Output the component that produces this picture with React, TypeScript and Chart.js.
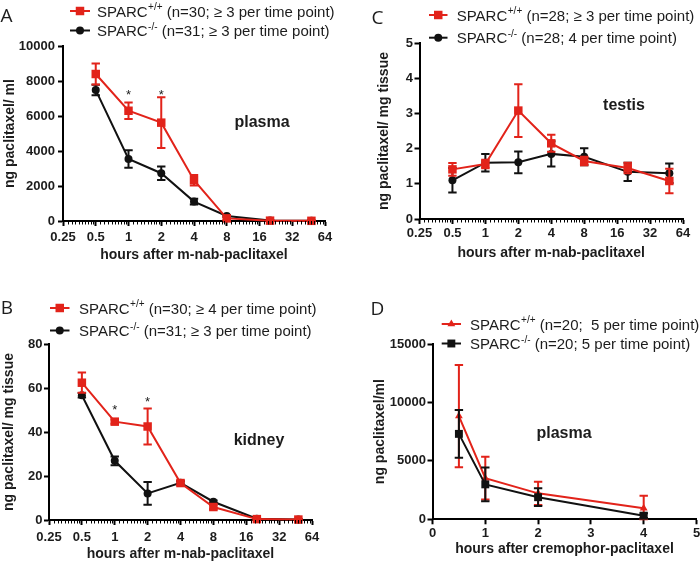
import React, { useEffect, useRef } from "react";
import { Chart, registerables } from "chart.js";

Chart.register(...registerables);

// ---------- colours / fonts ----------
const RED = "#e2231a";
const BLACK = "#111111";
const INK = "#1c1c1c";
const SANS = "'Liberation Sans', Arial, Helvetica, sans-serif";
const LETTER_FONT = "'Open Sans', 'DejaVu Sans', sans-serif";

// ---------- shared axes ----------
const logTickLabels = ["0.25", "0.5", "1", "2", "4", "8", "16", "32", "64"];
const linTickLabels = ["0", "1", "2", "3", "4", "5"];
const hoursNab = [0.5, 1, 2, 4, 8, 20, 48];
const hoursCremo = [0.5, 1, 2, 4];

// ---------- panel A: plasma after m-nab-paclitaxel ----------
const plasmaNabWT = [8400, 6300, 5620, 2330, 150, 20, 10];
const plasmaNabWTsem = [600, 470, 1450, 300, 80, 20, 10];
const plasmaNabKO = [7480, 3550, 2730, 1110, 290, 30, 10];
const plasmaNabKOsem = [300, 500, 380, 160, 60, 20, 10];
const plasmaNabStarHours = [1, 2];
const plasmaNabStarLevel = [7400, 7400];

// ---------- panel B: kidney ----------
const kidneyWT = [62.4, 44.7, 42.5, 16.8, 5.9, 0.4, 0.2];
const kidneyWTsem = [4.6, 1.0, 8.2, 1.0, 1.0, 0.5, 0.3];
const kidneyKO = [56.7, 26.9, 12.1, 16.9, 8.3, 0.6, 0.2];
const kidneyKOsem = [1.0, 2.0, 5.2, 0.8, 0.6, 0.3, 0.2];
const kidneyStarHours = [1, 2];
const kidneyStarLevel = [51.5, 55.3];

// ---------- panel C: testis ----------
const testisWT = [1.41, 1.56, 3.08, 2.15, 1.65, 1.45, 1.08];
const testisWTsem = [0.18, 0.12, 0.75, 0.24, 0.12, 0.15, 0.35];
const testisKO = [1.1, 1.6, 1.61, 1.85, 1.77, 1.34, 1.3];
const testisKOsem = [0.35, 0.25, 0.31, 0.36, 0.24, 0.26, 0.28];

// ---------- panel D: plasma after cremophor-paclitaxel ----------
const plasmaCremoWT = [8830, 3520, 2220, 940];
const plasmaCremoWTsd = [4380, 1830, 1000, 1080];
const plasmaCremoKO = [7310, 2990, 1890, 310];
const plasmaCremoKOsd = [2050, 1450, 760, 200];

type Marker = "rect" | "circle" | "triangle";
type SeriesDef = {
  sup: string;
  note: string;
  x: number[];
  y: number[];
  err: number[];
  color: string;
  marker: Marker;
  radius: number;
};
type PanelDef = {
  key: string;
  left: number;
  top: number;
  area: { l: number; r: number; t: number; b: number };
  logX: boolean;
  xMin: number;
  xMax: number;
  xLabels: string[];
  yMax: number;
  yStep: number;
  xTitle: string;
  yTitle: string;
  yTitleCx: number;
  xTitleCy: number;
  yTickPad: number;
  xTickPad: number;
  letter: string;
  letterAt: [number, number];
  tag: string;
  tagAt: [number, number];
  legend: { x1: number; x2: number; tx: number; rows: [number, number] };
  wt: SeriesDef;
  ko: SeriesDef;
  koOnTop: boolean;
  stars?: { x: number[]; y: number[] };
};

const WT_SUP = "+/+";
const KO_SUP = "-/-";

const panels: PanelDef[] = [
  {
    key: "A",
    left: 0,
    top: 0,
    area: { l: 63, r: 325, t: 46, b: 221 },
    logX: true,
    xMin: -2,
    xMax: 6,
    xLabels: logTickLabels,
    yMax: 10000,
    yStep: 2000,
    xTitle: "hours after m-nab-paclitaxel",
    yTitle: "ng paclitaxel/ ml",
    yTitleCx: 10,
    xTitleCy: 255,
    yTickPad: 3,
    xTickPad: 4,
    letter: "A",
    letterAt: [6.5, 17],
    tag: "plasma",
    tagAt: [262, 123],
    legend: { x1: 70, x2: 90, tx: 97, rows: [11, 30.5] },
    wt: { sup: WT_SUP, note: " (n=30; \u2265 3 per time point)", x: hoursNab, y: plasmaNabWT, err: plasmaNabWTsem, color: RED, marker: "rect", radius: 6 },
    ko: { sup: KO_SUP, note: " (n=31; \u2265 3 per time point)", x: hoursNab, y: plasmaNabKO, err: plasmaNabKOsem, color: BLACK, marker: "circle", radius: 4 },
    koOnTop: false,
    stars: { x: plasmaNabStarHours, y: plasmaNabStarLevel },
  },
  {
    key: "B",
    left: 0,
    top: 281,
    area: { l: 49, r: 312, t: 63, b: 239 },
    logX: true,
    xMin: -2,
    xMax: 6,
    xLabels: logTickLabels,
    yMax: 80,
    yStep: 20,
    xTitle: "hours after m-nab-paclitaxel",
    yTitle: "ng paclitaxel/ mg tissue",
    yTitleCx: 9,
    xTitleCy: 273,
    yTickPad: 1.5,
    xTickPad: 4.5,
    letter: "B",
    letterAt: [7, 28],
    tag: "kidney",
    tagAt: [259, 160],
    legend: { x1: 50, x2: 69.5, tx: 79, rows: [27, 49.5] },
    wt: { sup: WT_SUP, note: " (n=30; \u2265 4 per time point)", x: hoursNab, y: kidneyWT, err: kidneyWTsem, color: RED, marker: "rect", radius: 6 },
    ko: { sup: KO_SUP, note: " (n=31; \u2265 3 per time point)", x: hoursNab, y: kidneyKO, err: kidneyKOsem, color: BLACK, marker: "circle", radius: 4 },
    koOnTop: false,
    stars: { x: kidneyStarHours, y: kidneyStarLevel },
  },
  {
    key: "C",
    left: 350,
    top: 0,
    area: { l: 69.5, r: 333, t: 43, b: 219 },
    logX: true,
    xMin: -2,
    xMax: 6,
    xLabels: logTickLabels,
    yMax: 5,
    yStep: 1,
    xTitle: "hours after m-nab-paclitaxel",
    yTitle: "ng paclitaxel/ mg tissue",
    yTitleCx: 34,
    xTitleCy: 253,
    yTickPad: 1.5,
    xTickPad: 1.5,
    letter: "C",
    letterAt: [27.5, 18.3],
    tag: "testis",
    tagAt: [274, 106],
    legend: { x1: 79, x2: 97.5, tx: 106.7, rows: [15, 37.7] },
    wt: { sup: WT_SUP, note: " (n=28; \u2265 3 per time point)", x: hoursNab, y: testisWT, err: testisWTsem, color: RED, marker: "rect", radius: 6 },
    ko: { sup: KO_SUP, note: " (n=28; 4 per time point)", x: hoursNab, y: testisKO, err: testisKOsem, color: BLACK, marker: "circle", radius: 4 },
    koOnTop: false,
  },
  {
    key: "D",
    left: 350,
    top: 281,
    area: { l: 82.5, r: 346.5, t: 63, b: 238.3 },
    logX: false,
    xMin: 0,
    xMax: 5,
    xLabels: linTickLabels,
    yMax: 15000,
    yStep: 5000,
    xTitle: "hours after cremophor-paclitaxel",
    yTitle: "ng paclitaxel/ml",
    yTitleCx: 30,
    xTitleCy: 268,
    yTickPad: 1.5,
    xTickPad: 1.5,
    letter: "D",
    letterAt: [27.5, 28.5],
    tag: "plasma",
    tagAt: [214, 153],
    legend: { x1: 91.7, x2: 111, tx: 120, rows: [43, 62.5] },
    wt: { sup: WT_SUP, note: " (n=20;  5 per time point)", x: hoursCremo, y: plasmaCremoWT, err: plasmaCremoWTsd, color: RED, marker: "triangle", radius: 4.5 },
    ko: { sup: KO_SUP, note: " (n=20; 5 per time point)", x: hoursCremo, y: plasmaCremoKO, err: plasmaCremoKOsd, color: BLACK, marker: "rect", radius: 5.6 },
    koOnTop: true,
  },
];

function drawMarker(ctx: CanvasRenderingContext2D, kind: Marker, x: number, y: number, r: number, color: string) {
  ctx.save();
  ctx.fillStyle = color;
  ctx.beginPath();
  if (kind === "rect") {
    const s = r * Math.SQRT1_2;
    ctx.rect(x - s, y - s, 2 * s, 2 * s);
  } else if (kind === "circle") {
    ctx.arc(x, y, r, 0, Math.PI * 2);
  } else {
    let rad = 0;
    ctx.moveTo(x + Math.sin(rad) * r, y - Math.cos(rad) * r);
    rad += (2 * Math.PI) / 3;
    ctx.lineTo(x + Math.sin(rad) * r, y - Math.cos(rad) * r);
    rad += (2 * Math.PI) / 3;
    ctx.lineTo(x + Math.sin(rad) * r, y - Math.cos(rad) * r);
    ctx.closePath();
  }
  ctx.fill();
  ctx.restore();
}

function Panel({ def }: { def: PanelDef }) {
  const ref = useRef<HTMLCanvasElement>(null);

  useEffect(() => {
    const canvas = ref.current;
    if (!canvas) return;
    const toX = (h: number) => (def.logX ? Math.log2(h) : h);
    const mkDataset = (s: SeriesDef) => ({
      data: s.x.map((h, i) => ({ x: toX(h), y: s.y[i] })),
      errorBars: s.err,
      borderColor: s.color,
      backgroundColor: s.color,
      borderWidth: 2,
      pointStyle: s.marker,
      pointRadius: s.radius,
      pointBorderWidth: 0,
      pointBackgroundColor: s.color,
      tension: 0,
      clip: false as const,
    });
    const order = def.koOnTop ? [def.ko, def.wt] : [def.wt, def.ko];

    const fixArea = {
      id: "fixArea",
      afterLayout(chart: any) {
        const a = def.area;
        const xs = chart.scales.x;
        const ys = chart.scales.y;
        const lh = 14 * 1.2;
        chart.chartArea = { left: a.l, top: a.t, right: a.r, bottom: a.b, width: a.r - a.l, height: a.b - a.t };
        xs.left = a.l;
        xs.right = a.r;
        xs.width = a.r - a.l;
        xs.top = a.b;
        xs.bottom = def.xTitleCy + lh / 2;
        xs.height = xs.bottom - xs.top;
        ys.top = a.t;
        ys.bottom = a.b;
        ys.height = a.b - a.t;
        ys.left = def.yTitleCx - lh / 2;
        ys.right = a.l;
        ys.width = ys.right - ys.left;
        xs.configure();
        ys.configure();
        xs._labelItems = null;
        xs._gridLineItems = null;
        ys._labelItems = null;
        ys._gridLineItems = null;
      },
    };

    const errorBars = {
      id: "errorBars",
      beforeDatasetDraw(chart: any, args: any) {
        const ctx: CanvasRenderingContext2D = chart.ctx;
        const ds = chart.data.datasets[args.index];
        const ys = chart.scales.y;
        const pts = args.meta.data;
        ctx.save();
        ctx.strokeStyle = ds.borderColor;
        ctx.lineWidth = 2;
        const cap = 4.2;
        pts.forEach((el: any, i: number) => {
          const v = ds.data[i].y;
          const e = ds.errorBars[i];
          const yt = ys.getPixelForValue(v + e);
          const yb = ys.getPixelForValue(Math.max(0, v - e));
          ctx.beginPath();
          ctx.moveTo(el.x, yt);
          ctx.lineTo(el.x, yb);
          ctx.moveTo(el.x - cap, yt);
          ctx.lineTo(el.x + cap, yt);
          ctx.moveTo(el.x - cap, yb);
          ctx.lineTo(el.x + cap, yb);
          ctx.stroke();
        });
        ctx.restore();
      },
    };

    const decorations = {
      id: "decorations",
      afterDraw(chart: any) {
        const ctx: CanvasRenderingContext2D = chart.ctx;
        const xs = chart.scales.x;
        const ys = chart.scales.y;
        ctx.save();
        // minor ticks on log2 axes
        if (def.logX) {
          ctx.strokeStyle = "#000";
          ctx.lineWidth = 1;
          ctx.beginPath();
          for (let k = def.xMin; k < def.xMax; k++) {
            for (let i = 1; i <= 9; i++) {
              const px = xs.getPixelForValue(k + Math.log2(1 + i / 10));
              ctx.moveTo(Math.round(px) + 0.5, def.area.b);
              ctx.lineTo(Math.round(px) + 0.5, def.area.b + 3.5);
            }
          }
          ctx.stroke();
        }
        // panel letter
        ctx.fillStyle = INK;
        ctx.textAlign = "center";
        ctx.textBaseline = "middle";
        ctx.font = `19px ${LETTER_FONT}`;
        ctx.fillText(def.letter, def.letterAt[0], def.letterAt[1]);
        // tissue tag
        ctx.font = `bold 16px ${SANS}`;
        ctx.fillText(def.tag, def.tagAt[0], def.tagAt[1]);
        // significance stars
        if (def.stars) {
          ctx.font = `13px ${SANS}`;
          ctx.textBaseline = "alphabetic";
          def.stars.x.forEach((h, i) => {
            const px = xs.getPixelForValue(toX(h));
            const py = ys.getPixelForValue(def.stars!.y[i]);
            ctx.fillText("*", px, py + 7.5);
          });
        }
        // legend
        const L = def.legend;
        [def.wt, def.ko].forEach((s, row) => {
          const y = L.rows[row];
          ctx.strokeStyle = s.color;
          ctx.lineWidth = 2;
          ctx.beginPath();
          ctx.moveTo(L.x1, y);
          ctx.lineTo(L.x2, y);
          ctx.stroke();
          drawMarker(ctx, s.marker, (L.x1 + L.x2) / 2, y, s.radius, s.color);
          ctx.fillStyle = INK;
          ctx.textAlign = "left";
          ctx.textBaseline = "alphabetic";
          const base = y + 5.5;
          ctx.font = `15px ${SANS}`;
          ctx.fillText("SPARC", L.tx, base);
          let cx = L.tx + ctx.measureText("SPARC").width + 0.5;
          ctx.font = `10px ${SANS}`;
          ctx.fillText(s.sup, cx, base - 6.5);
          cx += ctx.measureText(s.sup).width;
          ctx.font = `15px ${SANS}`;
          ctx.fillText(s.note, cx, base);
        });
        ctx.restore();
      },
    };

    const tickFont = { family: SANS, size: 13, weight: "bold" as const };
    const titleFont = { family: SANS, size: 14, weight: "bold" as const };

    const chart = new Chart(canvas, {
      type: "line",
      data: { datasets: order.map(mkDataset) as any },
      options: {
        responsive: false,
        animation: false,
        events: [],
        layout: { padding: 0 },
        plugins: {
          legend: { display: false },
          tooltip: { enabled: false },
          title: { display: false },
        },
        scales: {
          x: {
            type: "linear",
            min: def.xMin,
            max: def.xMax,
            ticks: {
              stepSize: 1,
              autoSkip: false,
              maxRotation: 0,
              padding: def.xTickPad,
              color: INK,
              font: tickFont,
              callback: (_v: any, i: number) => def.xLabels[i],
            },
            grid: { drawOnChartArea: false, drawTicks: true, tickLength: 5, tickWidth: 2, tickColor: "#000", color: "#000" },
            border: { display: true, color: "#000", width: 2 },
            title: { display: true, text: def.xTitle, color: INK, font: titleFont, padding: 0 },
          },
          y: {
            type: "linear",
            position: "left",
            min: 0,
            max: def.yMax,
            ticks: {
              stepSize: def.yStep,
              padding: def.yTickPad,
              color: INK,
              font: tickFont,
              callback: (v: any) => String(v),
            },
            grid: { drawOnChartArea: false, drawTicks: true, tickLength: 5, tickWidth: 2, tickColor: "#000", color: "#000" },
            border: { display: true, color: "#000", width: 2 },
            title: { display: true, text: def.yTitle, color: INK, font: titleFont, padding: 0 },
          },
        },
      } as any,
      plugins: [fixArea, errorBars, decorations],
    });
    return () => chart.destroy();
  }, [def]);

  return (
    <canvas
      ref={ref}
      width={350}
      height={281}
      style={{ position: "absolute", left: def.left, top: def.top, width: 350, height: 281 }}
    />
  );
}

export default function App() {
  return (
    <div style={{ position: "absolute", left: 0, top: 0, width: 700, height: 562, background: "#fff", overflow: "hidden" }}>
      {panels.map((p) => (
        <Panel key={p.key} def={p} />
      ))}
    </div>
  );
}
